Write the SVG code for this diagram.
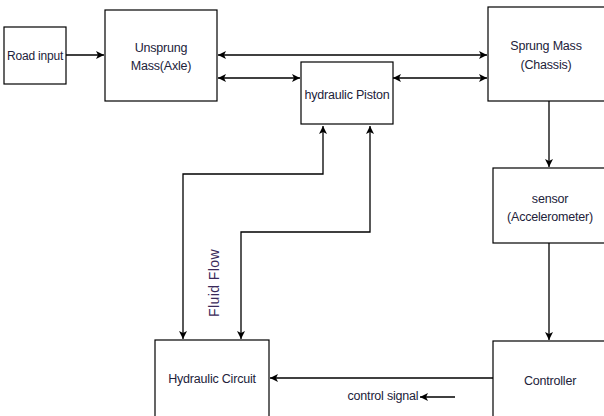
<svg xmlns="http://www.w3.org/2000/svg" width="604" height="416" viewBox="0 0 604 416">
<style>
.box{fill:#fff;stroke:#000;stroke-width:1.2}
.t{font-family:"Liberation Sans",Arial,sans-serif;font-size:12.5px;letter-spacing:-0.2px;fill:#22223a;text-anchor:middle}
.c{fill:none;stroke:#000;stroke-width:1.3}
</style>
<defs>
<marker id="ah" viewBox="0 0 10 10" refX="10" refY="5" markerWidth="8" markerHeight="8" markerUnits="userSpaceOnUse" orient="auto-start-reverse">
<path d="M0,0 L10,5 L0,10 L2.5,5 Z" fill="#000"/>
</marker>
</defs>
<rect width="604" height="416" fill="#fff"/>
<g id="connectors">
<path class="c" d="M66,55 H104" marker-end="url(#ah)"/>
<path class="c" d="M218,55 H487" marker-start="url(#ah)" marker-end="url(#ah)"/>
<path class="c" d="M218,78 H300" marker-start="url(#ah)" marker-end="url(#ah)"/>
<path class="c" d="M393,78 H487" marker-start="url(#ah)" marker-end="url(#ah)"/>
<path class="c" d="M183,339 V174 H323 V126" marker-start="url(#ah)" marker-end="url(#ah)"/>
<path class="c" d="M241,339 V232 H370 V126" marker-start="url(#ah)" marker-end="url(#ah)"/>
<path class="c" d="M549,101 V167" marker-end="url(#ah)"/>
<path class="c" d="M549,243 V340" marker-end="url(#ah)"/>
<path class="c" d="M493,378 H270" marker-end="url(#ah)"/>
<path class="c" d="M455,397 H420" marker-end="url(#ah)"/>
</g>
<g id="road-input">
<rect class="box" x="4" y="27" width="62" height="57"/>
<text class="t" x="35" y="60" style="font-size:12px">Road input</text>
</g>
<g id="unsprung-mass">
<rect class="box" x="105" y="10" width="112" height="91"/>
<text class="t" x="161" y="52">Unsprung</text>
<text class="t" x="161" y="70">Mass(Axle)</text>
</g>
<g id="hydraulic-piston">
<rect class="box" x="301" y="62" width="92" height="62"/>
<text class="t" x="347" y="99">hydraulic Piston</text>
</g>
<g id="sprung-mass">
<rect class="box" x="488" y="7" width="120" height="94"/>
<text class="t" x="546" y="50">Sprung Mass</text>
<text class="t" x="546" y="69">(Chassis)</text>
</g>
<g id="sensor">
<rect class="box" x="493" y="168" width="115" height="75"/>
<text class="t" x="550" y="203">sensor</text>
<text class="t" x="550" y="221">(Accelerometer)</text>
</g>
<g id="controller">
<rect class="box" x="493" y="341" width="115" height="80"/>
<text class="t" x="550" y="385">Controller</text>
</g>
<g id="hydraulic-circuit">
<rect class="box" x="155" y="340" width="114" height="80"/>
<text class="t" x="212" y="383">Hydraulic Circuit</text>
</g>
<g id="labels">
<text x="0" y="0" transform="translate(219,283) rotate(-90)" style="font-family:'Liberation Sans',Arial,sans-serif;font-size:14px;letter-spacing:0.4px;fill:#3a2a5a;text-anchor:middle">Fluid Flow</text>
<text class="t" x="383" y="400">control signal</text>
</g>
</svg>
